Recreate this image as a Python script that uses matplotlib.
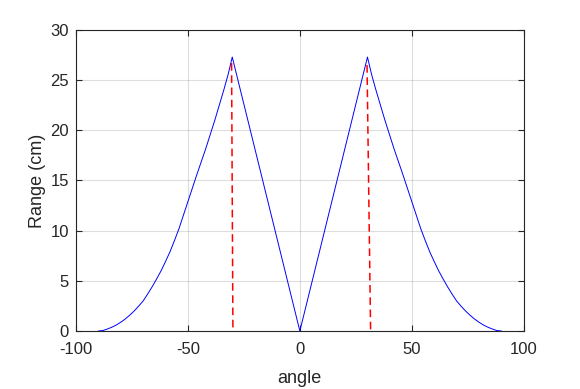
import matplotlib
matplotlib.use("Agg")
import matplotlib.pyplot as plt

# 읽어낸 곡선 값 (angle, Range)
left_angle = [-90, -88, -86, -84, -82, -80, -78, -76, -74, -72, -70, -68, -66, -64, -62, -60,
              -58, -56, -54, -52, -50, -48, -46, -44, -42, -40, -38, -36, -34, -32, -30.2]
left_range = [0, 0.05, 0.2, 0.38, 0.6, 0.88, 1.2, 1.58, 2.0, 2.48, 3.0, 3.68, 4.4, 5.18, 6.0, 6.93,
              7.9, 9.02, 10.2, 11.55, 12.9, 14.25, 15.6, 16.9, 18.2, 19.6, 21.0, 22.5, 24.0, 25.6, 27.3]
mid_angle = [0]
mid_range = [0]
right_angle = [30.2, 32, 34, 36, 38, 40, 42, 44, 46, 48, 50, 52, 54, 56, 58, 60,
               62, 64, 66, 68, 70, 72, 74, 76, 78, 80, 82, 84, 86, 88, 90]
right_range = [27.3, 25.6, 24.0, 22.5, 21.0, 19.6, 18.2, 16.9, 15.6, 14.25, 12.9, 11.55, 10.2, 9.02, 7.9, 6.93,
               6.0, 5.18, 4.4, 3.68, 3.0, 2.48, 2.0, 1.58, 1.2, 0.88, 0.6, 0.38, 0.2, 0.05, 0]

angle = left_angle + mid_angle + right_angle
range_cm = left_range + mid_range + right_range

# 빨간 점선 (위 끝, 아래 끝)
left_x = [-30.5, -29.9]
left_y = [26.7, 0]
right_x = [30.0, 31.6]
right_y = [26.5, 0]

xticks = [-100, -50, 0, 50, 100]
yticks = [0, 5, 10, 15, 20, 25, 30]

plt.rcParams['font.family'] = ['Liberation Sans', 'DejaVu Sans']
plt.rcParams['axes.unicode_minus'] = False

fig = plt.figure(figsize=(5.8, 3.89), dpi=100)
ax = fig.add_axes([0.131, 0.149, 0.772, 0.774])

ax.plot(angle, range_cm, color=(0, 0, 1), linewidth=0.7)
ax.plot(left_x, left_y, color=(1, 0, 0), linestyle=(0, (5, 3)), linewidth=1.1)
ax.plot(right_x, right_y, color=(1, 0, 0), linestyle=(0, (5, 3)), linewidth=1.1)

ax.set_xlim(-100, 100)
ax.set_ylim(0, 30)
ax.set_xticks(xticks)
ax.set_yticks(yticks)
ax.grid(True, color=(0.15, 0.15, 0.15), alpha=0.15, linewidth=0.8)
ax.set_axisbelow(True)

dark = (0.15, 0.15, 0.15)
for s in ax.spines.values():
    s.set_color(dark)
    s.set_linewidth(0.8)
ax.tick_params(direction='in', top=True, right=True, colors=dark, labelsize=12,
               length=4, width=0.8, labelcolor=dark)
ax.tick_params(axis='x', pad=8)
ax.tick_params(axis='y', pad=5)
ax.set_xlabel("angle", fontsize=13, color=dark, labelpad=9)
ax.set_ylabel("Range (cm)", fontsize=13, color=dark, labelpad=3)

fig.savefig("out.png", dpi=100)
